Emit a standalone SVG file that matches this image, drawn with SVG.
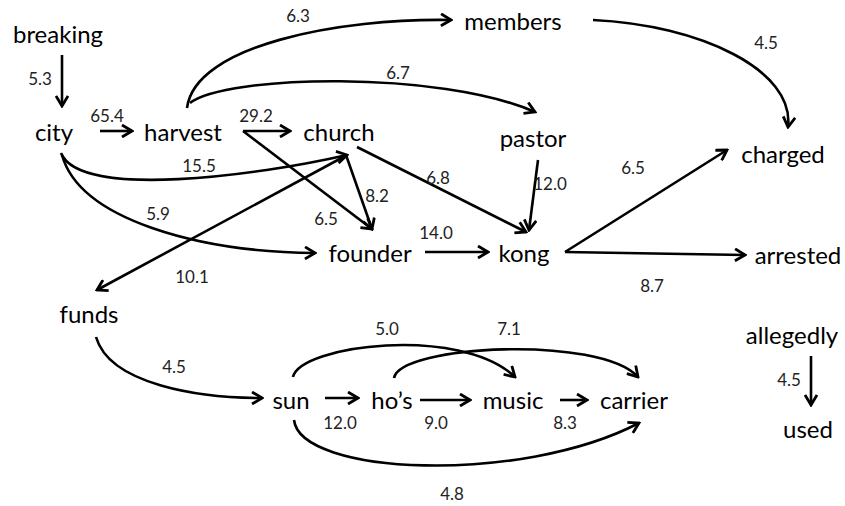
<svg xmlns="http://www.w3.org/2000/svg" width="845" height="506" viewBox="0 0 845 506">
<defs>
<marker id="arr" markerUnits="userSpaceOnUse" viewBox="0 0 14 14" refX="12" refY="7" markerWidth="14" markerHeight="14" orient="auto">
<path d="M2,1 L12,7 L2,13" fill="none" stroke="#000" stroke-width="2.8" stroke-linejoin="miter"/>
</marker>
<style>
.n{font-family:Lato,"Open Sans","Liberation Sans",sans-serif;font-size:24px;fill:#000;text-anchor:middle;dominant-baseline:central}
.l{font-family:Lato,"Open Sans","Liberation Sans",sans-serif;font-size:17px;fill:#222;text-anchor:middle;dominant-baseline:central}
.e{fill:none;stroke:#000;stroke-width:2.6;marker-end:url(#arr)}
</style>
</defs>
<rect width="845" height="506" fill="#fff"/>
<g id="connectors">
<path class="e" d="M62,55 L62,106"/>
<path class="e" d="M100,131 L132,131"/>
<path class="e" d="M243,131 L290,131"/>
<path class="e" d="M187,108 C195,45 340,18 451,20"/>
<path class="e" d="M190,103 C225,75 440,70 535,112"/>
<path class="e" d="M593,20 C700,25 795,70 788,127"/>
<path class="e" d="M357,147 L526,232"/>
<path class="e" d="M538,160 L529,230"/>
<path class="e" d="M346,155 L372,229"/>
<path class="e" d="M243,131 L372,229"/>
<path class="e" d="M61,153 C80,200 260,175 347,155"/>
<path class="e" d="M62,155 C80,220 200,252 315,253"/>
<path class="e" d="M347,155 L97,290"/>
<path class="e" d="M425,252 L488,252"/>
<path class="e" d="M565,252 L727,150"/>
<path class="e" d="M565,252 L745,255"/>
<path class="e" d="M96,337 C110,385 200,398 262,398"/>
<path class="e" d="M325,398 L358,398"/>
<path class="e" d="M420,400 L470,400"/>
<path class="e" d="M560,400 L587,400"/>
<path class="e" d="M293,377 C300,345 460,325 515,377"/>
<path class="e" d="M394,378 C400,345 600,335 638,377"/>
<path class="e" d="M294,420 C300,475 520,485 639,423"/>
<path class="e" d="M811,356 L811,405"/>
</g>
<g id="edge-labels">
<text class="l" x="40" y="78">5.3</text>
<text class="l" x="107" y="115">65.4</text>
<text class="l" x="256" y="115">29.2</text>
<text class="l" x="298" y="15">6.3</text>
<text class="l" x="398" y="72">6.7</text>
<text class="l" x="766" y="42">4.5</text>
<text class="l" x="199" y="165">15.5</text>
<text class="l" x="158" y="213">5.9</text>
<text class="l" x="377" y="195">8.2</text>
<text class="l" x="326" y="218">6.5</text>
<text class="l" x="438" y="177">6.8</text>
<text class="l" x="550" y="183">12.0</text>
<text class="l" x="633" y="167">6.5</text>
<text class="l" x="436" y="232">14.0</text>
<text class="l" x="192" y="276">10.1</text>
<text class="l" x="652" y="285">8.7</text>
<text class="l" x="387" y="328">5.0</text>
<text class="l" x="509" y="328">7.1</text>
<text class="l" x="174" y="366">4.5</text>
<text class="l" x="340" y="422">12.0</text>
<text class="l" x="436" y="422">9.0</text>
<text class="l" x="565" y="422">8.3</text>
<text class="l" x="452" y="493">4.8</text>
<text class="l" x="789" y="379">4.5</text>
</g>
<g id="breaking"><text class="n" x="58" y="33">breaking</text></g>
<g id="city"><text class="n" x="54" y="131">city</text></g>
<g id="harvest"><text class="n" x="183" y="131">harvest</text></g>
<g id="church"><text class="n" x="339" y="131">church</text></g>
<g id="members"><text class="n" x="513" y="20">members</text></g>
<g id="pastor"><text class="n" x="533" y="137">pastor</text></g>
<g id="charged"><text class="n" x="783" y="153">charged</text></g>
<g id="founder"><text class="n" x="370" y="252">founder</text></g>
<g id="kong"><text class="n" x="524" y="252">kong</text></g>
<g id="arrested"><text class="n" x="798" y="254">arrested</text></g>
<g id="funds"><text class="n" x="89" y="313">funds</text></g>
<g id="sun"><text class="n" x="291" y="399">sun</text></g>
<g id="hos"><text class="n" x="392" y="399">ho’s</text></g>
<g id="music"><text class="n" x="513" y="399">music</text></g>
<g id="carrier"><text class="n" x="634" y="399">carrier</text></g>
<g id="allegedly"><text class="n" x="792" y="334">allegedly</text></g>
<g id="used"><text class="n" x="808" y="428">used</text></g>
</svg>
